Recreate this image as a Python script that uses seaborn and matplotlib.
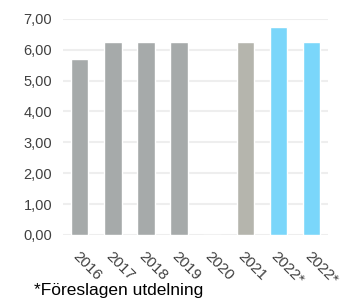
import pandas as pd
import seaborn as sns
import matplotlib.pyplot as plt
from matplotlib.ticker import FuncFormatter

# Data
years = ["2016", "2017", "2018", "2019", "2020", "2021", "2022*", "2022* "]
values = [5.70, 6.25, 6.25, 6.25, 0.0, 6.25, 6.75, 6.25]
colors = ["#A6AAAA", "#A6AAAA", "#A6AAAA", "#A6AAAA", "#A6AAAA", "#B5B5AD", "#7AD6FA", "#7AD6FA"]
tick_labels = ["2016", "2017", "2018", "2019", "2020", "2021", "2022*", "2022*"]
footnote = "*Föreslagen utdelning"

df = pd.DataFrame({"Year": years, "Value": values})

sns.set_style("white")
plt.rcParams["font.family"] = ["Liberation Sans", "DejaVu Sans"]

fig = plt.figure(figsize=(3.45, 3.0), dpi=100)
ax = fig.add_axes([0.183, 0.217, 0.768, 0.72])

sns.barplot(x="Year", y="Value", data=df, hue="Year", palette=colors,
            legend=False, width=0.53, saturation=1, ax=ax, zorder=3)

ax.set_ylim(0, 7)
ax.set_yticks([0, 1, 2, 3, 4, 5, 6, 7])
ax.yaxis.set_major_formatter(FuncFormatter(lambda v, p: f"{v:.2f}".replace(".", ",")))
ax.grid(axis="y", color="#EEEEEE", linewidth=1.5, zorder=0)
ax.set_axisbelow(True)
for s in ax.spines.values():
    s.set_visible(False)
ax.set_xlim(-0.5, len(years) - 0.5)
ax.set_xticks(range(len(years)))
ax.set_xticklabels(tick_labels, rotation=-45, ha="left", rotation_mode="anchor",
                   fontsize=11, color="#404040")
ax.tick_params(axis="y", labelsize=10.5, labelcolor="#404040", length=0, pad=8)
ax.tick_params(axis="x", length=0, pad=10)
ax.set_xlabel("")
ax.set_ylabel("")

fig.text(0.1, 0.018, footnote, fontsize=12.5, color="#000000")

fig.savefig("out.png", dpi=100)
plt.close()
